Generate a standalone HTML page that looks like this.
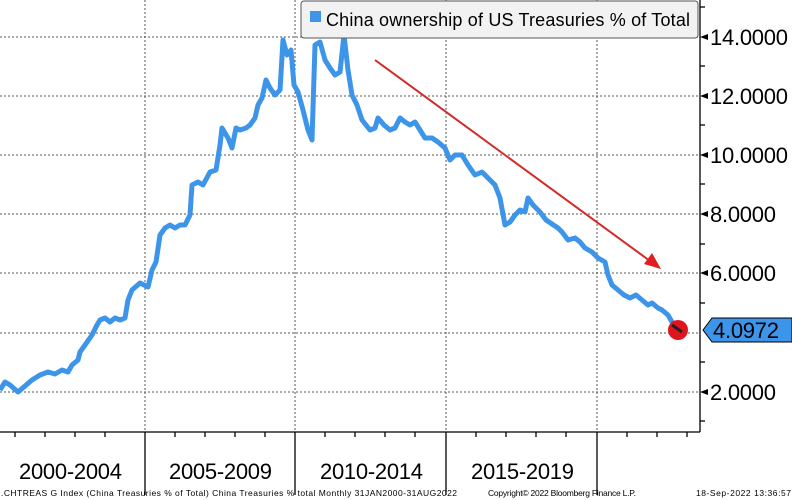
<!DOCTYPE html>
<html><head><style>
html,body{margin:0;padding:0;background:#fff;}
svg{display:block;font-family:"Liberation Sans",sans-serif;}
</style></head><body>
<svg width="792" height="500" viewBox="0 0 792 500">
<g stroke="#555" stroke-width="1" stroke-dasharray="2,2">
<line x1="0" y1="37" x2="700" y2="37"/><line x1="0" y1="96" x2="700" y2="96"/>
<line x1="0" y1="155" x2="700" y2="155"/><line x1="0" y1="214" x2="700" y2="214"/>
<line x1="0" y1="273" x2="700" y2="273"/><line x1="0" y1="333" x2="700" y2="333"/>
<line x1="0" y1="392" x2="700" y2="392"/>
<line x1="145" y1="0" x2="145" y2="432"/><line x1="295" y1="0" x2="295" y2="432"/>
<line x1="446" y1="0" x2="446" y2="432"/><line x1="597" y1="0" x2="597" y2="432"/>
</g>
<g stroke="#000" stroke-width="1.3">
<line x1="700" y1="0" x2="700" y2="432"/><line x1="0" y1="432" x2="700" y2="432"/>
<line x1="145" y1="432" x2="145" y2="495"/><line x1="295" y1="432" x2="295" y2="495"/>
<line x1="446" y1="432" x2="446" y2="495"/><line x1="597" y1="432" x2="597" y2="495"/>
<line x1="700" y1="7" x2="705" y2="7"/><line x1="700" y1="66" x2="705" y2="66"/><line x1="700" y1="125" x2="705" y2="125"/><line x1="700" y1="184" x2="705" y2="184"/><line x1="700" y1="244" x2="705" y2="244"/><line x1="700" y1="303" x2="705" y2="303"/><line x1="700" y1="362" x2="705" y2="362"/><line x1="700" y1="421" x2="705" y2="421"/>
<line x1="15" y1="432" x2="15" y2="437"/><line x1="45" y1="432" x2="45" y2="437"/><line x1="75" y1="432" x2="75" y2="437"/><line x1="105" y1="432" x2="105" y2="437"/>
<line x1="175" y1="432" x2="175" y2="437"/><line x1="205" y1="432" x2="205" y2="437"/><line x1="235" y1="432" x2="235" y2="437"/><line x1="265" y1="432" x2="265" y2="437"/>
<line x1="325" y1="432" x2="325" y2="437"/><line x1="355" y1="432" x2="355" y2="437"/><line x1="385" y1="432" x2="385" y2="437"/><line x1="415" y1="432" x2="415" y2="437"/>
<line x1="476" y1="432" x2="476" y2="437"/><line x1="506" y1="432" x2="506" y2="437"/><line x1="536" y1="432" x2="536" y2="437"/><line x1="566" y1="432" x2="566" y2="437"/>
<line x1="627" y1="432" x2="627" y2="437"/><line x1="657" y1="432" x2="657" y2="437"/><line x1="687" y1="432" x2="687" y2="437"/>
</g>
<g fill="#000">
<polygon points="700,37 708,34 708,40"/><polygon points="700,96 708,93 708,99"/><polygon points="700,155 708,152 708,158"/><polygon points="700,214 708,211 708,217"/><polygon points="700,273 708,270 708,276"/><polygon points="700,392 708,389 708,395"/>
</g>
<g font-size="22" fill="#000">
<text x="710" y="45" textLength="78">14.0000</text><text x="710" y="104" textLength="78">12.0000</text><text x="710" y="163" textLength="78">10.0000</text>
<text x="710" y="222" textLength="66">8.0000</text><text x="710" y="281" textLength="66">6.0000</text><text x="710" y="400" textLength="66">2.0000</text>
</g>
<polyline fill="none" stroke="#3d95ea" stroke-width="5" stroke-linejoin="round" points="0,390 5,382 10,385 18,392 25,386 32,380 40,375 48,372 55,374 62,370 68,372 72,365 78,360 80,352 85,345 92,335 97,325 100,320 105,318 110,322 115,318 120,320 125,318 128,300 132,290 140,283 148,287 152,270 156,262 160,235 165,228 170,225 175,228 180,225 185,225 190,215 192,185 198,182 203,185 210,172 216,170 220,145 222,128 228,138 232,148 236,128 240,130 246,128 250,125 255,118 258,105 262,98 266,80 270,88 275,95 280,90 283,40 287,55 291,50 294,85 298,92 303,110 308,130 312,140 315,45 320,42 325,60 330,68 335,75 340,72 344,35 348,70 352,95 357,105 362,120 366,125 370,130 375,128 378,118 384,125 390,130 395,128 400,118 405,122 410,125 415,122 420,130 425,138 432,138 438,142 445,148 450,160 455,155 462,155 468,165 475,175 482,172 490,180 495,185 500,198 505,225 510,222 515,215 520,210 525,212 528,198 533,205 540,212 546,220 552,224 558,228 562,232 568,240 575,238 580,242 585,248 592,252 598,258 605,262 608,275 612,285 618,290 624,295 630,298 636,295 642,300 648,305 652,303 658,308 662,310 668,315 672,322 678,328"/>
<line x1="375" y1="60" x2="650" y2="261" stroke="#d42a2a" stroke-width="2"/>
<polygon points="661,269 644,264 652,253" fill="#e02020"/>
<circle cx="678" cy="330" r="10" fill="#e0141c"/>
<line x1="672" y1="325" x2="682" y2="332" stroke="#222" stroke-width="3"/>
<polygon points="703,330 712,318 792,318 792,342 712,342" fill="#3d95ea" stroke="#000" stroke-width="1"/>
<text x="713" y="338" font-size="22" fill="#000" textLength="66">4.0972</text>
<rect x="301" y="1" width="397" height="37" rx="3" fill="#f2f2f2" stroke="#555"/>
<rect x="310" y="11" width="11" height="11" fill="#3d95ea"/>
<text x="326" y="26" font-size="18" fill="#000" textLength="364">China ownership of US Treasuries % of Total</text>
<g font-size="22" fill="#000">
<text x="19" y="479" textLength="103">2000-2004</text><text x="169" y="479" textLength="103">2005-2009</text><text x="320" y="479" textLength="103">2010-2014</text><text x="471" y="479" textLength="103">2015-2019</text>
</g>
<g font-size="8.5" fill="#000">
<text x="1" y="496" textLength="456">.CHTREAS G Index (China Treasuries % of Total) China Treasuries % total  Monthly 31JAN2000-31AUG2022</text>
<text x="488" y="496" textLength="148">Copyright© 2022 Bloomberg Finance L.P.</text>
<text x="696" y="496" textLength="95">18-Sep-2022 13:36:57</text>
</g>
</svg>
</body></html>
